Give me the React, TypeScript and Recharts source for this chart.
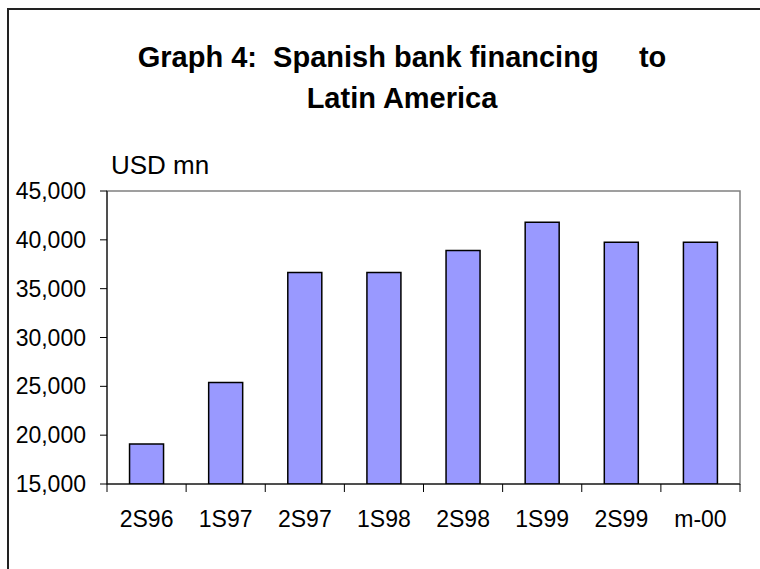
import { BarChart, Bar, XAxis, YAxis, ReferenceArea } from 'recharts';

const periods = ['2S96', '1S97', '2S97', '1S98', '2S98', '1S99', '2S99', 'm-00'];
const financing = [19100, 25400, 36650, 36650, 38900, 41800, 39750, 39750];
const yTicks = [15000, 20000, 25000, 30000, 35000, 40000, 45000];

const data = periods.map((period, i) => ({ period, value: financing[i] }));

const FONT = '"Liberation Sans", Arial, Helvetica, sans-serif';

function PeriodTick(props: any) {
  const { x, y, payload, index, visibleTicksCount } = props;
  const half = payload?.offset ?? 0;
  const isLast = index === (visibleTicksCount ?? periods.length) - 1;
  return (
    <g>
      <line x1={x - half} y1={y} x2={x - half} y2={y + 8} stroke="#000" />
      {isLast && <line x1={x + half} y1={y} x2={x + half} y2={y + 8} stroke="#000" />}
      <text x={x} y={y + 43} textAnchor="middle" fontSize={23} fontFamily={FONT} fill="#000">
        {payload.value}
      </text>
    </g>
  );
}

export default function App() {
  return (
    <div
      style={{
        position: 'absolute',
        left: 0,
        top: 0,
        width: 760,
        height: 569,
        overflow: 'hidden',
        background: '#fff',
        fontFamily: FONT,
      }}
    >
      {/* outer frame, only top and left edges are visible in the crop */}
      <div
        style={{
          position: 'absolute',
          left: 7,
          top: 8,
          width: 900,
          height: 900,
          borderLeft: '2px solid #222',
          borderTop: '2px solid #222',
        }}
      />
      <div
        style={{
          position: 'absolute',
          left: 0,
          width: 804,
          top: 37,
          textAlign: 'center',
          fontWeight: 'bold',
          fontSize: 29,
          lineHeight: '41px',
          whiteSpace: 'pre',
          color: '#000',
        }}
      >
        {'Graph 4:  Spanish bank financing     to'}
        <br />
        {'Latin America'}
      </div>
      <div
        style={{
          position: 'absolute',
          left: 111,
          top: 150,
          fontSize: 26,
          color: '#000',
        }}
      >
        USD mn
      </div>
      <div style={{ position: 'absolute', left: 0, top: 0 }}>
        <BarChart
          width={760}
          height={569}
          data={data}
          margin={{ top: 191, right: 20, bottom: 35, left: 7 }}
          barCategoryGap="28.5%"
        >
          <ReferenceArea y1={15000} y2={45000} fill="none" stroke="#808080" strokeWidth={1.5} />
          <XAxis
            dataKey="period"
            height={50}
            axisLine={{ stroke: '#000' }}
            tickLine={false}
            tickSize={0}
            tickMargin={0}
            interval={0}
            tick={<PeriodTick />}
          />
          <YAxis
            width={100}
            domain={[15000, 45000]}
            ticks={yTicks}
            allowDataOverflow
            axisLine={{ stroke: '#000' }}
            tickLine={{ stroke: '#000' }}
            tickSize={7}
            tickMargin={14}
            tick={{ fontSize: 23, fill: '#000', fontFamily: FONT }}
            tickFormatter={(v: number) => v.toLocaleString('en-US')}
          />
          <Bar
            dataKey="value"
            fill="#9999FF"
            stroke="#000"
            strokeWidth={1.5}
            isAnimationActive={false}
          />
        </BarChart>
      </div>
    </div>
  );
}
